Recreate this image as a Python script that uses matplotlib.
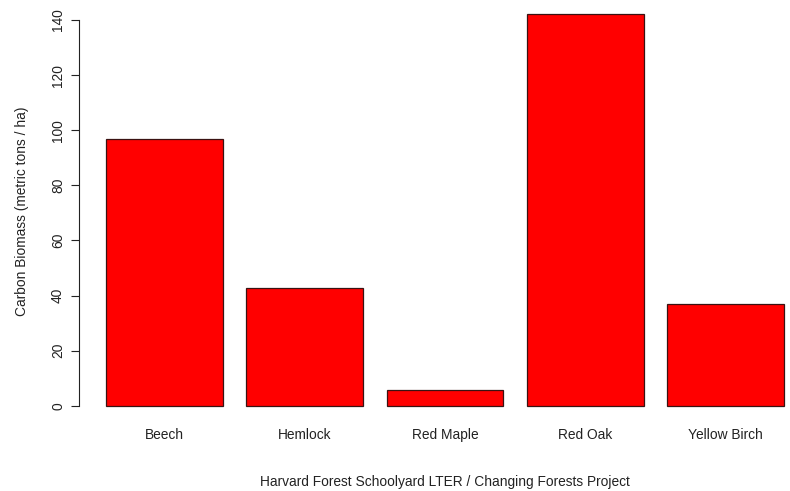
import matplotlib
matplotlib.use("Agg")
import matplotlib.pyplot as plt
import numpy as np

categories = ["Beech", "Hemlock", "Red Maple", "Red Oak", "Yellow Birch"]
biomass = [96.8, 42.6, 5.6, 142.2, 36.9]
yticks = [0, 20, 40, 60, 80, 100, 120, 140]

plt.rcParams['font.family'] = ['Liberation Sans', 'DejaVu Sans']
FS = 9.9

fig = plt.figure(figsize=(7.9, 4.91), dpi=100)
W, H = 790, 491
left_px, right_px = 79, 811
bot_px, top_px = 421.4, -1.8
ax = fig.add_axes([left_px / W, (H - bot_px) / H, (right_px - left_px) / W, (bot_px - top_px) / H])

x = np.arange(len(categories)) * 1.2 + 0.7
ax.bar(x, biomass, width=1.0, color='#ff0000', edgecolor='#3a1212', linewidth=0.9)

ax.set_xlim(-0.032, 6.232)
ax.set_ylim(-5.69, 147.9)

for s in ['top', 'right', 'bottom']:
    ax.spines[s].set_visible(False)
ax.spines['left'].set_bounds(0, 140)
ax.spines['left'].set_linewidth(0.8)
ax.spines['left'].set_color('#222222')

ax.set_yticks(yticks)
ax.set_yticklabels([str(v) for v in yticks], rotation=90, va='center')
ax.tick_params(axis='y', length=5.5, width=0.8, color='#222222', pad=4.5, labelsize=FS, labelcolor='#222222')

ax.set_xticks(x)
ax.set_xticklabels(categories)
ax.tick_params(axis='x', length=0, pad=5, labelsize=FS, labelcolor='#222222')

fig.text(22 / W, 1 - 211 / H, "Carbon Biomass (metric tons / ha)", rotation=90,
         ha='center', va='center', fontsize=FS, color='#222222')
fig.text(445 / W, 1 - 482 / H, "Harvard Forest Schoolyard LTER / Changing Forests Project",
         ha='center', va='center', fontsize=FS, color='#222222')

fig.savefig("out.png", dpi=100)
